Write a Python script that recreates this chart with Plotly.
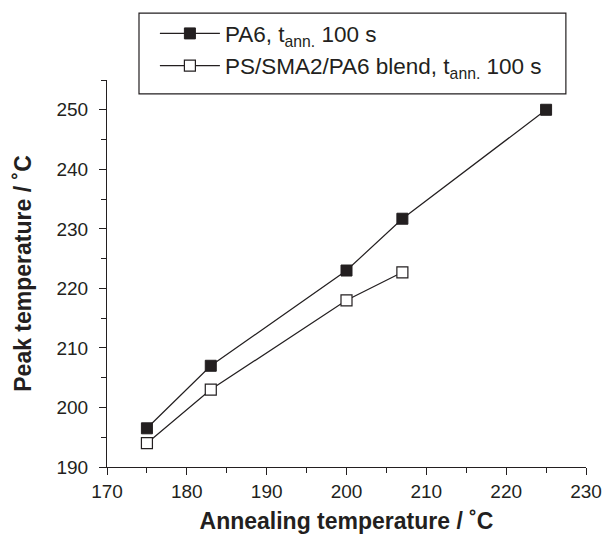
import plotly.graph_objects as go

ann_temp_pa6 = [175, 183, 200, 207, 225]
peak_pa6 = [196.5, 207.0, 223.0, 231.7, 250.0]
ann_temp_blend = [175, 183, 200, 207]
peak_blend = [194.0, 203.0, 218.0, 222.7]

x_ticks = [170, 180, 190, 200, 210, 220, 230]
y_ticks = [190, 200, 210, 220, 230, 240, 250]

ink = "#231f20"
fig = go.Figure()
fig.add_trace(go.Scatter(
    x=ann_temp_pa6, y=peak_pa6, mode="lines+markers",
    name="PA6, t<sub>ann.</sub> 100 s",
    line=dict(color=ink, width=1.2),
    marker=dict(symbol="square", size=11, color=ink,
                line=dict(color=ink, width=1)),
))
fig.add_trace(go.Scatter(
    x=ann_temp_blend, y=peak_blend, mode="lines+markers",
    name="PS/SMA2/PA6 blend, t<sub>ann.</sub> 100 s",
    line=dict(color=ink, width=1.2),
    marker=dict(symbol="square", size=11, color="white",
                line=dict(color=ink, width=1.2)),
))

font_family = "Liberation Sans, Arial, sans-serif"
fig.update_layout(
    width=604, height=534,
    margin=dict(l=107, r=18, t=80, b=67),
    paper_bgcolor="white", plot_bgcolor="white",
    font=dict(family=font_family, size=19, color=ink),
    showlegend=True,
    legend=dict(
        x=0.1, y=1.175, xanchor="left", yanchor="top",
        borderwidth=0, bgcolor="rgba(0,0,0,0)",
        font=dict(size=22.5, family=font_family, color=ink),
        itemwidth=60, tracegroupgap=0,
    ),
    shapes=[dict(type="rect", xref="paper", yref="paper",
                 x0=0.0668, x1=0.958, y0=0.964, y1=1.173,
                 line=dict(color=ink, width=1.2), fillcolor="white", layer="below")],
    xaxis=dict(
        range=[170, 230], tickvals=x_ticks, ticks="outside", ticklen=7,
        tickwidth=1.2, tickcolor=ink, automargin=False,
        showline=True, linecolor=ink, linewidth=1.2,
        showgrid=False, zeroline=False,
        minor=dict(dtick=5, ticks="outside", ticklen=5, tickwidth=1.2, tickcolor=ink, showgrid=False),
        title=dict(text="<b>Annealing temperature / ˚C</b>", font=dict(size=23), standoff=11),
    ),
    yaxis=dict(
        range=[190, 255], tickvals=y_ticks, ticks="outside", ticklen=7,
        tickwidth=1.2, tickcolor=ink, ticklabelstandoff=7, automargin=False,
        showline=True, linecolor=ink, linewidth=1.2,
        showgrid=False, zeroline=False,
        minor=dict(dtick=5, ticks="outside", ticklen=5, tickwidth=1.2, tickcolor=ink, showgrid=False),
        title=dict(text="<b>Peak temperature / ˚C</b>", font=dict(size=23), standoff=18),
    ),
)

fig.write_html("out.html")
